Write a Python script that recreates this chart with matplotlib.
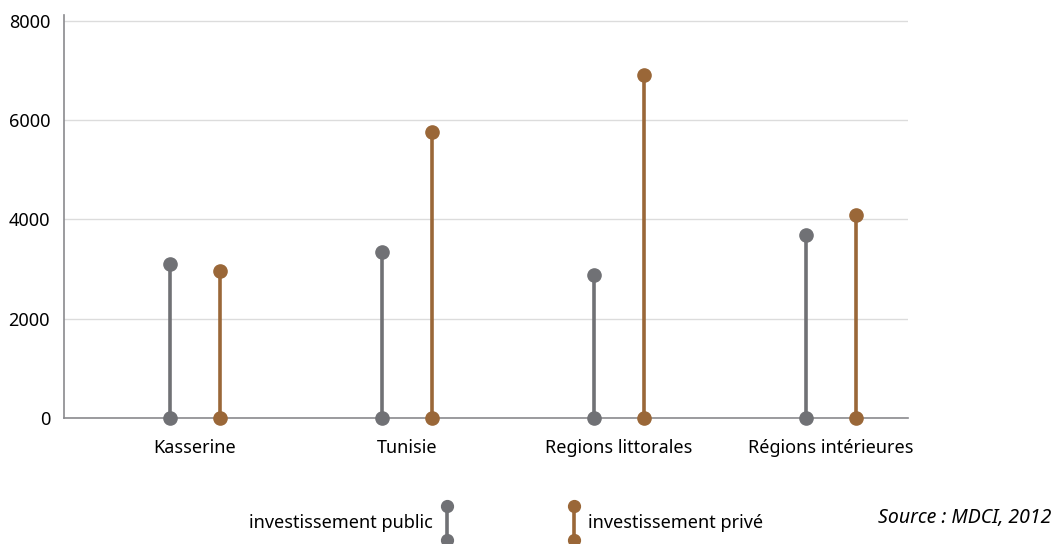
import matplotlib
matplotlib.use("Agg")
import matplotlib.pyplot as plt
from matplotlib.lines import Line2D
import numpy as np

plt.rcParams['font.family'] = ['Noto Sans', 'DejaVu Sans']

categories = ["Kasserine", "Tunisie", "Regions littorales", "Régions intérieures"]
public = [3100, 3350, 2870, 3680]
prive = [2950, 5750, 6900, 4080]
yticks = [0, 2000, 4000, 6000, 8000]

c_pub = "#707175"
c_priv = "#9a6738"

fig = plt.figure(figsize=(10.56, 5.44), dpi=100)
ax = fig.add_axes([64/1056, 1-418/544, (908-64)/1056, (418-15)/544])

x = np.arange(len(categories))
off = 25/212
for xi, v in zip(x - off, public):
    ax.plot([xi, xi], [0, v], color=c_pub, lw=2.6, zorder=3, clip_on=False)
    ax.plot([xi, xi], [0, v], 'o', color=c_pub, ms=9.5, zorder=4, clip_on=False)
for xi, v in zip(x + off, prive):
    ax.plot([xi, xi], [0, v], color=c_priv, lw=2.6, zorder=3, clip_on=False)
    ax.plot([xi, xi], [0, v], 'o', color=c_priv, ms=9.5, zorder=4, clip_on=False)

ax.set_xlim(-131/212, 3 + 77/212)
ax.set_ylim(0, 8115)
ax.set_yticks(yticks)
ax.set_yticklabels([str(t) for t in yticks], fontsize=13)
ax.set_xticks(x)
ax.set_xticklabels(categories, fontsize=13)
ax.tick_params(axis='both', length=0)
ax.tick_params(axis='x', pad=15)
ax.tick_params(axis='y', pad=10)
ax.grid(axis='y', color='#dcdcdc', lw=1)
ax.set_axisbelow(True)
for s in ['top', 'right']:
    ax.spines[s].set_visible(False)
for s in ['left', 'bottom']:
    ax.spines[s].set_color('#8a8a8e')
    ax.spines[s].set_linewidth(1.2)

# custom legend
W, H = 1056, 544
def fx(px): return px / W
def fy(py): return 1 - py / H
for xp, col in [(447, c_pub), (574, c_priv)]:
    fig.add_artist(Line2D([fx(xp), fx(xp)], [fy(506), fy(540)], color=col, lw=2.6))
    fig.add_artist(Line2D([fx(xp), fx(xp)], [fy(506), fy(540)], color=col, lw=0,
                          marker='o', ms=8.5))
fig.text(fx(433), fy(523), "investissement public", ha='right', va='center', fontsize=13)
fig.text(fx(588), fy(523), "investissement privé", ha='left', va='center', fontsize=13)
fig.text(fx(1051), fy(518), "Source : MDCI, 2012", ha='right', va='center',
         fontsize=14, style='italic')

fig.savefig("out.png", dpi=100)
